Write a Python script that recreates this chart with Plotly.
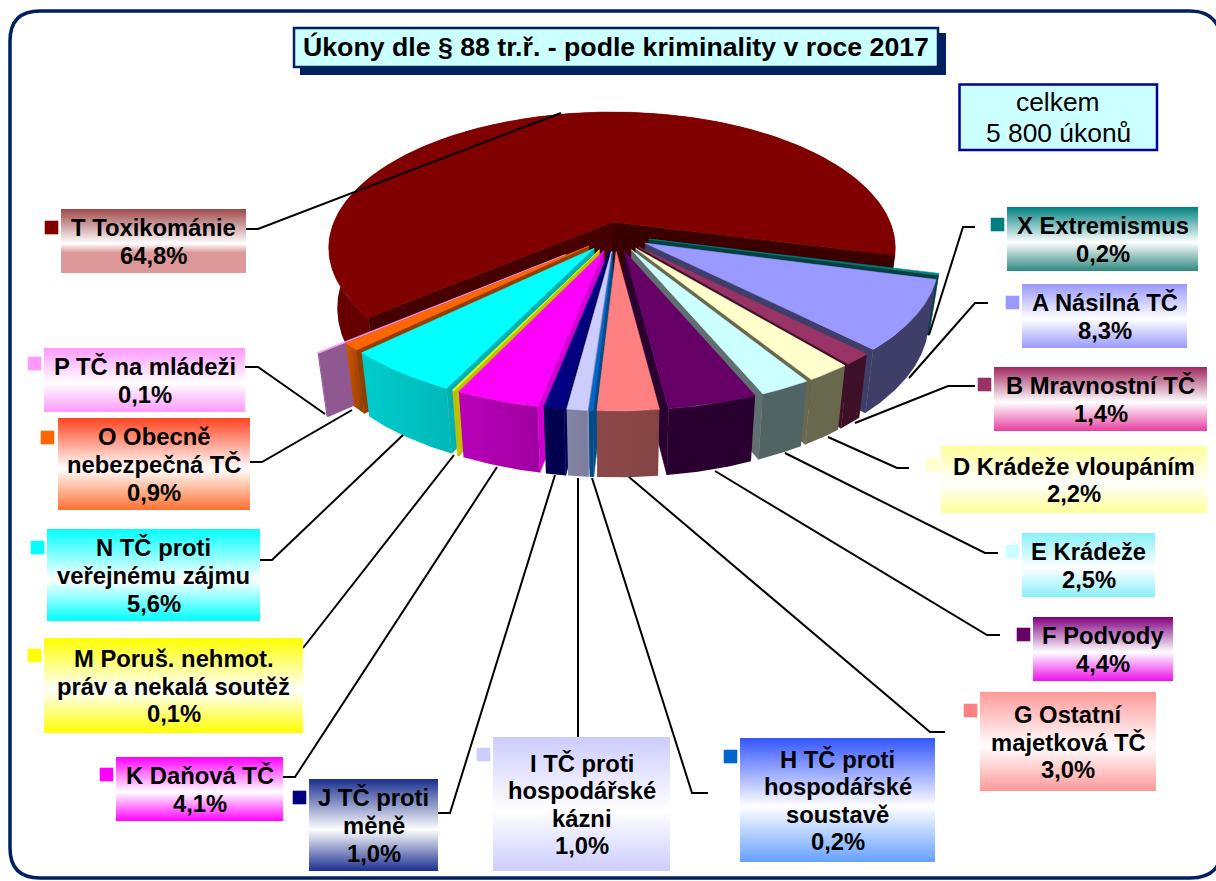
import math
import plotly.graph_objects as go

# ---------- data ----------
codes = ["X", "A", "B", "D", "E", "F", "G", "H", "I", "J", "K", "M", "N", "O", "P", "T"]
labels = ["X Extremismus", "A Násilná TČ", "B Mravnostní TČ", "D Krádeže vloupáním", "E Krádeže",
          "F Podvody", "G Ostatní<br>majetková TČ", "H TČ proti<br>hospodářské<br>soustavě",
          "I TČ proti<br>hospodářské<br>kázni", "J TČ proti<br>měně", "K Daňová TČ",
          "M Poruš. nehmot.<br>práv a nekalá soutěž", "N TČ proti<br>veřejnému zájmu",
          "O Obecně<br>nebezpečná TČ", "P TČ na mládeži", "T Toxikománie"]
values = [0.2, 8.3, 1.4, 2.2, 2.5, 4.4, 3.0, 0.2, 1.0, 1.0, 4.1, 0.1, 5.6, 0.9, 0.1, 64.8]
value_text = ["0,2%", "8,3%", "1,4%", "2,2%", "2,5%", "4,4%", "3,0%", "0,2%", "1,0%", "1,0%",
              "4,1%", "0,1%", "5,6%", "0,9%", "0,1%", "64,8%"]
title_text = "Úkony dle § 88 tr.ř. - podle kriminality v roce 2017"
total_lines = ["celkem", "5 800 úkonů"]

# ---------- styles ----------
top_col = ["#008080", "#9999FF", "#993366", "#FFFFCC", "#CCFFFF", "#660066", "#FF8080", "#0066CC",
           "#CCCCFF", "#000080", "#FF00FF", "#FFFF00", "#00FFFF", "#FF6600", "#FF99FF", "#800000"]
wall_l = ["#004040", "#3E3E68", "#3D1028", "#68684E", "#506464", "#2A0030", "#8C4848", "#004C88",
          "#8484A6", "#00004F", "#B800B8", "#C0C000", "#00CCCC", "#D25400", "#905890", "#660000"]
wall_r = ["#004040", "#3E3E68", "#3D1028", "#68684E", "#506464", "#2A0030", "#844444", "#004C88",
          "#7C7C9C", "#00004F", "#A000A0", "#C0C000", "#00B8B8", "#8F3F00", "#905890", "#660000"]
side_col = ["#004040", "#3E3E68", "#3D1028", "#68684E", "#607070", "#2A0030", "#8C4848", "#004C88",
            "#8888A8", "#00004F", "#D000D0", "#C0C000", "#00B0B0", "#8F3F00", "#905890", "#400000"]
grad = [("#008080", "#2F8880"), ("#9999FF", "#9999FF"), ("#A02860", "#E840A0"), ("#FFFF99", "#FFFF99"),
        ("#88F0F8", "#88F0F8"), ("#800080", "#EE10EE"), ("#FF9999", "#FF9999"), ("#3355FF", "#66A0FF"),
        ("#CCCCFF", "#CCCCFF"), ("#1B2F8F", "#1B2F8F"), ("#FF00FF", "#FF00FF"), ("#FFFF00", "#FFFF00"),
        ("#00FFFF", "#00FFFF"), ("#FF4420", "#FF7030"), ("#FF99FF", "#FF99FF"), ("#9F4848", "#DD9999")]
boxes = [(1007, 1198, 207, 271), (1022, 1187, 284, 348), (994, 1207, 367, 431), (941, 1207, 446, 513),
         (1022, 1155, 533, 597), (1033, 1173, 617, 681), (980, 1156, 692, 791), (740, 935, 738, 862),
         (493, 670, 737, 871), (309, 438, 779, 871), (116, 283, 757, 821), (44, 303, 638, 733),
         (47, 260, 529, 621), (58, 250, 418, 510), (44, 245, 348, 412), (61, 246, 209, 273)]
swatch = [(991, 218), (1006, 296), (978, 378), (926, 458), (1006, 545), (1017, 628), (964, 704), (724, 750),
          (477, 748), (293, 791), (100, 768), (28, 649), (31, 541), (41, 431), (28, 357), (45, 221)]
leaders = [[(975, 227), (963, 227), (929, 335)], [(988, 303), (975, 303), (909, 378)],
           [(975, 386), (948, 386), (855, 423)], [(909, 468), (897, 468), (828, 437)],
           [(998, 553), (985, 553), (785, 453)], [(1000, 635), (987, 635), (715, 471)],
           [(945, 732), (930, 732), (629, 477)], [(708, 793), (692, 793), (592, 478)],
           [(578, 737), (578, 478)], [(438, 813), (450, 813), (555, 475)],
           [(283, 777), (295, 777), (497, 467)], [(303, 648), (454, 455)],
           [(260, 560), (272, 560), (403, 435)], [(250, 462), (262, 462), (352, 410)],
           [(245, 367), (258, 367), (325, 414)], [(246, 229), (258, 229), (561, 113)]]

# projection of the pie plane onto the page
START = 14.0
SL = dict(cx=615, cy=235, a=289, b=137, k=0.114)   # exploded slices
TP = dict(cx=612, cy=222, a=278, b=131, k=0.191)   # big slice
EXPLODE = 0.12
P_EXPLODE = 0.22
H = 58
BX = 0.97
LABEL_SIZE = 23.8
LINE_STEP = 27.6


def proj(u, v, p):
    w = 1 - p["k"] * v
    return p["cx"] + p["a"] * u / w, p["cy"] + p["b"] * v / w, w


def top_pt(th, off, p, r=1.0):
    t = math.radians(th)
    return proj(r * math.cos(t) + off[0], r * math.sin(t) + off[1], p)


def bottom(pt, p):
    return p["cx"] + (pt[0] - p["cx"]) * BX, pt[1] + H / pt[2]


def arc(t0, t1, off, p):
    n = max(2, int(abs(t1 - t0) * 1.5) + 2)
    return [top_pt(t0 + (t1 - t0) * i / (n - 1), off, p) for i in range(n)]


fig = go.Figure()


def poly(pts, color=None, line=None, gradient=None):
    xs = [q[0] for q in pts] + [pts[0][0]]
    ys = [q[1] for q in pts] + [pts[0][1]]
    kw = dict(fill="toself", mode="lines", hoverinfo="skip", showlegend=False,
              line=dict(width=0.6 if line is None else line, color=color or "rgba(0,0,0,0)"))
    if gradient:
        kw["fillgradient"] = gradient
        kw["line"] = dict(width=0)
    else:
        kw["fillcolor"] = color
    fig.add_trace(go.Scatter(x=xs, y=ys, **kw))


def wall_quad(o, apex, p, color):
    poly([o[:2], bottom(o, p), bottom(apex, p), apex[:2]], color)


def outer_wall(a_pts, p, i):
    pts = [q[:2] for q in a_pts] + [bottom(q, p) for q in reversed(a_pts)]
    poly(pts, gradient=dict(type="horizontal", colorscale=[[0, wall_l[i]], [1, wall_r[i]]]))


# angles
scale = 360.0 / sum(values)
spans, cum = [], START
for v in values:
    spans.append((cum, cum + v * scale))
    cum += v * scale

# big slice first
it = len(values) - 1
t0, t1 = spans[it]
arc_t = arc(t0, t1, (0, 0), TP)
outer_wall(arc_t, TP, it)
apex_t = proj(0, 0, TP)
wall_quad(top_pt(t0, (0, 0), TP), apex_t, TP, "#470000")
wall_quad(top_pt(t1, (0, 0), TP), apex_t, TP, "#3A0000")
poly([apex_t[:2]] + [q[:2] for q in arc_t], top_col[it])

# exploded slices, from the sides towards the front
order = sorted(range(len(values) - 1), key=lambda i: -abs((spans[i][0] + spans[i][1]) / 2 - 90))
for i in order:
    t0, t1 = spans[i]
    mid = math.radians((t0 + t1) / 2)
    e = P_EXPLODE if codes[i] == "P" else EXPLODE
    off = (e * math.cos(mid), e * math.sin(mid))
    a_pts = arc(t0, t1, off, SL)
    apex = proj(off[0], off[1], SL)
    edge = a_pts[-1] if math.degrees(mid) < 90 else a_pts[0]
    wall_quad(edge, apex, SL, side_col[i])
    outer_wall(a_pts, SL, i)
    poly([apex[:2]] + [q[:2] for q in a_pts], top_col[i])

# leader lines
for ln in leaders:
    fig.add_trace(go.Scatter(x=[q[0] for q in ln], y=[q[1] for q in ln], mode="lines", hoverinfo="skip",
                             showlegend=False, line=dict(color="black", width=2)))

# label boxes with vertical gradient (plotly's vertical gradient runs bottom to top)
ann = []


def text_lines(lines, xc, yc, size, bold):
    for j, s in enumerate(lines):
        y = yc + (j - (len(lines) - 1) / 2) * LINE_STEP
        ann.append(dict(x=xc, y=y, xref="x", yref="y", showarrow=False, align="center",
                        text=("<b>%s</b>" % s) if bold else s,
                        font=dict(family="Liberation Sans", size=size, color="black")))


for i, (x0, x1, y0, y1) in enumerate(boxes):
    c0, c1 = grad[i]
    if codes[i] == "T":
        stops = [[0, c1], [0.32, c1], [0.46, "#FFFFFF"], [1, c0]]
    else:
        stops = [[0, c1], [0.45, "#FFFFFF"], [1, c0]]
    poly([(x0, y0), (x1, y0), (x1, y1), (x0, y1)], gradient=dict(type="vertical", colorscale=stops))
    sx, sy = swatch[i]
    poly([(sx, sy), (sx + 13, sy), (sx + 13, sy + 13), (sx, sy + 13)], top_col[i])
    text_lines(labels[i].split("<br>") + [value_text[i]], (x0 + x1) / 2, (y0 + y1) / 2 + 0.5, LABEL_SIZE, True)

ann.append(dict(x=616, y=47, xref="x", yref="y", showarrow=False, text="<b>" + title_text + "</b>",
                font=dict(family="Liberation Sans", size=26.7, color="black")))
for j, s in enumerate(total_lines):
    ann.append(dict(x=1058, y=102 + 31 * j, xref="x", yref="y", showarrow=False, text=s,
                    font=dict(family="Liberation Sans", size=26.4, color="black")))

frame = "M 40 11 L 1190 11 Q 1214 11 1220 32 L 1220 860 Q 1214 878 1190 878 L 40 878 Q 10 878 10 848 L 10 41 Q 10 11 40 11 Z"
shapes = [
    dict(type="path", path=frame, line=dict(color="#002060", width=3.5), layer="below"),
    dict(type="rect", x0=300, x1=946, y0=33, y1=75, fillcolor="#002060", line=dict(width=0), layer="above"),
    dict(type="rect", x0=294, x1=938, y0=28, y1=67, fillcolor="#CCFFFF", line=dict(color="#002060", width=2.5), layer="above"),
    dict(type="rect", x0=959.5, x1=1157, y0=84.5, y1=150, fillcolor="#CCFFFF", line=dict(color="#000099", width=2.5), layer="above"),
]

fig.update_layout(width=1216, height=881, margin=dict(l=0, r=0, t=0, b=0), paper_bgcolor="white",
                  plot_bgcolor="white", showlegend=False, annotations=ann, shapes=shapes,
                  xaxis=dict(range=[0, 1216], visible=False, fixedrange=True),
                  yaxis=dict(range=[881, 0], visible=False, fixedrange=True))
fig.write_html("out.html", post_script="document.body.style.margin='0';document.body.style.overflow='hidden';",
               config=dict(displayModeBar=False))
